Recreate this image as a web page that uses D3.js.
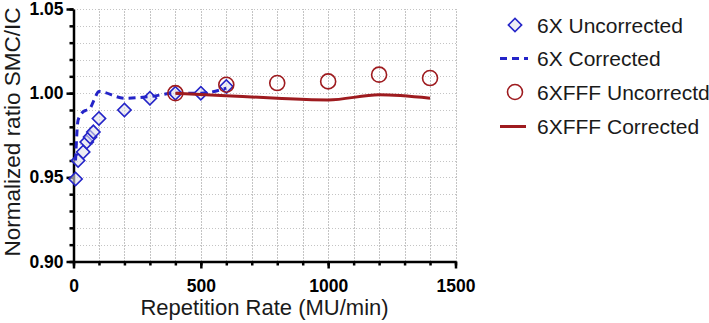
<!DOCTYPE html>
<html lang="en">
<head>
  <meta charset="UTF-8">
  <title>Normalized ratio SMC/IC vs Repetition Rate</title>
  <script src="https://d3js.org/d3.v7.min.js"></script>
  <style>
    body {
      margin: 0;
      background: #fff;
      font-family: 'Liberation Sans', Arial, sans-serif;
    }

    .grid line {
      stroke: #c4c4c4;
      stroke-width: 1;
      stroke-dasharray: 1.5 1.5;
      shape-rendering: crispEdges;
    }

    .grid path {
      stroke-width: 0;
    }

    .axis path,
    .axis line {
      stroke: #000;
      stroke-width: 2.5;
    }

    .axis text {
      font-family: 'Liberation Sans', Arial, sans-serif;
      font-size: 17.5px;
      font-weight: bold;
      fill: #000;
    }

    .axis-label {
      font-size: 22px;
      fill: #1a1a1a;
    }

    .legend text {
      font-size: 21px;
      fill: #1a1a1a;
    }
  </style>
</head>
<body>
  <svg width="709" height="323"></svg>

  <script>
    // 6X beam
    const x6 = [8, 18, 38, 52, 65, 78, 100, 200, 300, 400, 500, 600];
    const y6Uncorrected = [0.949, 0.960, 0.965, 0.971, 0.974, 0.977, 0.985, 0.990, 0.997, 1.000, 1.000, 1.004];
    const y6Corrected = [0.960, 0.984, 0.989, 0.990, 0.991, 0.995, 1.001, 0.997, 0.998, 1.000, 1.000, 1.003];

    // 6XFFF beam
    const xFFF = [400, 600, 800, 1000, 1200, 1400];
    const yFFFUncorrected = [1.000, 1.005, 1.006, 1.007, 1.011, 1.009];
    const yFFFCorrected = [1.000, 0.9985, 0.997, 0.996, 0.999, 0.997];

    const xTicks = [0, 500, 1000, 1500];
    const yTicks = [0.90, 0.95, 1.00, 1.05];

    const legendLabels = ["6X Uncorrected", "6X Corrected", "6XFFF Uncorrectd", "6XFFF Corrected"];

    const blue = "#2424c8";
    const red = "#9e1b1f";

    const svg = d3.select("svg"),
      margin = { top: 9, right: 253.5, bottom: 61.5, left: 73.5 },
      width = +svg.attr("width") - margin.left - margin.right,
      height = +svg.attr("height") - margin.top - margin.bottom;

    const g = svg.append("g").attr("transform", `translate(${margin.left},${margin.top})`);

    const x = d3.scaleLinear().domain([0, 1500]).range([0, width]);
    const y = d3.scaleLinear().domain([0.90, 1.05]).range([height, 0]);

    const xMinor = d3.range(0, 1501, 100);
    const yMinor = d3.range(0, 16).map(i => +(0.90 + i * 0.01).toFixed(2));

    // grid lines
    g.append("g")
      .attr("class", "grid")
      .call(d3.axisLeft(y).tickValues(yMinor.filter(v => v > 0.9)).tickSize(-width).tickFormat(""));

    g.append("g")
      .attr("class", "grid")
      .attr("transform", `translate(0,${height})`)
      .call(d3.axisBottom(x).tickValues(xMinor.filter(v => v > 0)).tickSize(-height).tickFormat(""));

    // minor ticks
    g.append("g")
      .attr("class", "axis")
      .call(d3.axisLeft(y).tickValues(yMinor).tickSize(4).tickFormat(""))
      .select(".domain").remove();

    g.append("g")
      .attr("class", "axis")
      .attr("transform", `translate(0,${height})`)
      .call(d3.axisBottom(x).tickValues(xMinor).tickSize(4).tickFormat(""))
      .select(".domain").remove();

    // major axes
    g.append("g")
      .attr("class", "axis")
      .call(d3.axisLeft(y).tickValues(yTicks).tickSize(7).tickSizeOuter(0).tickPadding(3).tickFormat(d3.format(".2f")));

    g.append("g")
      .attr("class", "axis")
      .attr("transform", `translate(0,${height})`)
      .call(d3.axisBottom(x).tickValues(xTicks).tickSize(7).tickSizeOuter(0).tickPadding(8).tickFormat(d3.format("d")))
      .selectAll("text")
      .attr("dy", "0.9em");

    // X axis label
    svg.append("text")
      .attr("class", "axis-label")
      .attr("x", margin.left + width / 2)
      .attr("y", 315)
      .attr("text-anchor", "middle")
      .text("Repetition Rate (MU/min)");

    // Y axis label
    svg.append("text")
      .attr("class", "axis-label")
      .attr("transform", "rotate(-90)")
      .attr("x", -132)
      .attr("y", 20)
      .attr("text-anchor", "middle")
      .style("font-size", "22.5px")
      .text("Normalized ratio SMC/IC");

    const diamond = d3.symbol().type(d3.symbolSquare).size(88);

    const d6 = x6.map((v, i) => ({ x: v, u: y6Uncorrected[i], c: y6Corrected[i] }));
    const dF = xFFF.map((v, i) => ({ x: v, u: yFFFUncorrected[i], c: yFFFCorrected[i] }));

    // 6X uncorrected diamonds
    g.selectAll(".d6")
      .data(d6)
      .enter()
      .append("path")
      .attr("d", diamond)
      .attr("transform", d => `translate(${x(d.x)},${y(d.u)}) rotate(45)`)
      .attr("fill", "rgba(225,225,235,0.6)")
      .attr("stroke", blue)
      .attr("stroke-width", 1.6);

    // 6X corrected dashed line
    g.append("path")
      .datum(d6)
      .attr("fill", "none")
      .attr("stroke", blue)
      .attr("stroke-width", 3)
      .attr("stroke-dasharray", "7 5")
      .attr("d", d3.line().x(d => x(d.x)).y(d => y(d.c)).curve(d3.curveMonotoneX));

    // 6XFFF uncorrected circles
    g.selectAll(".cF")
      .data(dF)
      .enter()
      .append("circle")
      .attr("cx", d => x(d.x))
      .attr("cy", d => y(d.u))
      .attr("r", 7.5)
      .attr("fill", "none")
      .attr("stroke", red)
      .attr("stroke-width", 1.6);

    // 6XFFF corrected line
    g.append("path")
      .datum(dF)
      .attr("fill", "none")
      .attr("stroke", red)
      .attr("stroke-width", 3)
      .attr("d", d3.line().x(d => x(d.x)).y(d => y(d.c)).curve(d3.curveMonotoneX));

    // legend
    const legend = svg.append("g").attr("class", "legend").attr("transform", "translate(500,0)");
    const rowY = [25, 58.5, 92, 126.5];

    legend.append("path")
      .attr("d", diamond)
      .attr("transform", `translate(15,${rowY[0]}) rotate(45)`)
      .attr("fill", "rgba(225,225,235,0.6)")
      .attr("stroke", blue)
      .attr("stroke-width", 1.6);

    legend.append("line")
      .attr("x1", 0).attr("x2", 28)
      .attr("y1", rowY[1]).attr("y2", rowY[1])
      .attr("stroke", blue)
      .attr("stroke-width", 3)
      .attr("stroke-dasharray", "7 5");

    legend.append("circle")
      .attr("cx", 15).attr("cy", rowY[2])
      .attr("r", 7.5)
      .attr("fill", "none")
      .attr("stroke", red)
      .attr("stroke-width", 1.6);

    legend.append("line")
      .attr("x1", 0).attr("x2", 26)
      .attr("y1", rowY[3]).attr("y2", rowY[3])
      .attr("stroke", red)
      .attr("stroke-width", 3);

    legend.selectAll(".lab")
      .data(legendLabels)
      .enter()
      .append("text")
      .attr("x", 37)
      .attr("y", (d, i) => rowY[i] + 7.5)
      .text(d => d);
  </script>
</body>
</html>
